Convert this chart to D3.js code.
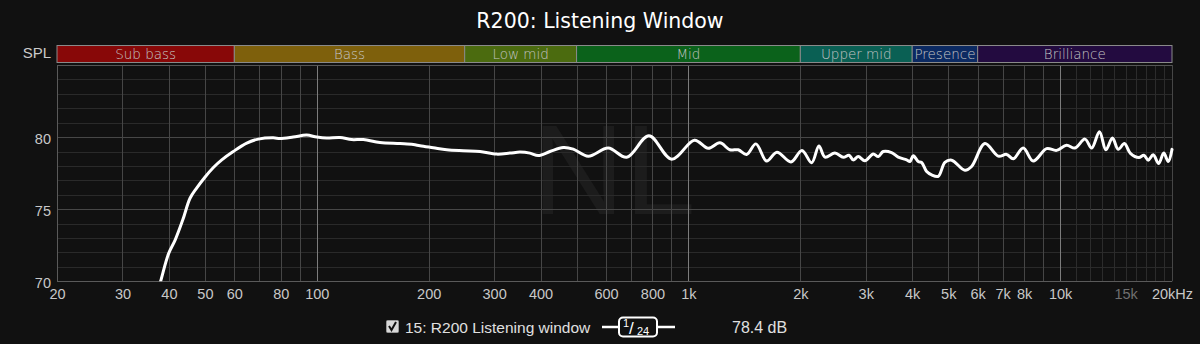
<!DOCTYPE html>
<html><head><meta charset="utf-8">
<script src="https://cdn.jsdelivr.net/npm/d3@7"></script>
<style>
html,body{margin:0;padding:0;background:#111111;}
svg{display:block;}
</style></head>
<body>
<svg id="chart" width="1200" height="344"></svg>
<script>
// ---------- DATA ----------
const titleText = "R200: Listening Window";
const freqs = [37,38,39.9,41.6,43.6,45.6,47.5,50,52.7,55.5,59.6,64.8,69.6,76.4,79.6,86.4,93.9,100,106.3,115.4,124.1,133.4,147.9,167.5,181.8,189.5,205.8,223.6,247.8,274.8,304.8,331,352,374.6,394.4,424,460.4,489.8,537.6,608.4,682,782.8,901.2,1038,1130,1215,1293,1361,1434,1519,1623,1730,1887,2020,2146,2244,2330,2478,2610,2704,2776,2864,2984,3142,3242,3342,3520,3668,3864,3944,4026,4152,4240,4374,4512,4700,4898,5106,5546,5778,6276,6816,7178,7480,7956,8466,9196,9784,10410,10962,11664,12158,12758,13282,13828,14334,14892,15458,16294,16806,17260,17802,18418,19000,19536,20000];
const splValues = [69.0,70.0,71.9,72.87,74.26,75.76,76.46,77.22,77.89,78.42,79.0,79.58,79.86,79.95,79.9,80.0,80.14,80.0,79.93,79.97,79.83,79.83,79.62,79.55,79.49,79.4,79.26,79.12,79.05,79.0,78.82,78.89,78.96,78.89,78.72,79.0,79.28,79.17,78.68,79.24,78.6,80.09,78.47,79.78,79.22,79.6,79.12,79.12,78.8,79.53,78.34,78.95,78.28,79.07,78.22,79.38,78.61,78.89,78.6,78.74,78.42,78.65,78.36,78.83,78.65,79.0,78.93,78.61,78.42,78.31,78.7,78.31,78.24,77.61,77.38,77.28,78.25,78.4,77.7,77.96,79.55,78.68,78.8,78.5,79.24,78.34,79.2,79.08,79.43,79.24,79.86,79.24,80.37,79.12,79.93,79.15,79.55,78.87,78.58,78.74,78.4,78.77,78.17,78.89,78.31,79.15];
const bandNames = ["Sub bass","Bass","Low mid","Mid","Upper mid","Presence","Brilliance"];
const bandEdges = [20,60,250,500,2000,4000,6000,20000];
const bandColors = ["#880808","#7e600c","#4b6b0f","#0b621b","#0a6054","#0c2a62","#230b40"];
const xTickValues = [20,30,40,50,60,80,100,200,300,400,600,800,1000,2000,3000,4000,5000,6000,7000,8000,10000,15000,20000];
const xTickLabels = ["20","30","40","50","60","80","100","200","300","400","600","800","1k","2k","3k","4k","5k","6k","7k","8k","10k","15k","20kHz"];
const yTickValues = [70,75,80];
const yDomain = [70,85];
const legendLabel = "15: R200 Listening window";
const legendValue = "78.4 dB";

// ---------- LAYOUT ----------
const L = 57, R = 1172, T = 65, B = 281.3;
const svg = d3.select("#chart");
const x = d3.scaleLog().domain([20,20000]).range([L,R]);
const y = d3.scaleLinear().domain(yDomain).range([B,T]);

svg.append("rect").attr("width",1200).attr("height",344).attr("fill","#111111");

// title
svg.append("text").attr("x",600).attr("y",28).attr("text-anchor","middle")
  .attr("font-family","DejaVu Sans, sans-serif").attr("font-size",20.5).attr("fill","#ffffff")
  .text(titleText);

// SPL label
svg.append("text").attr("x",51).attr("y",58).attr("text-anchor","end")
  .attr("font-family","Liberation Sans, Arial, sans-serif").attr("font-size",15).attr("fill","#cccccc")
  .text("SPL");

// bands
const bands = bandNames.map((n,i)=>({name:n,f0:bandEdges[i],f1:bandEdges[i+1],c:bandColors[i]}));
const bg = svg.append("g");
bg.selectAll("rect").data(bands).join("rect")
  .attr("x",d=>x(d.f0)).attr("y",45.5).attr("width",d=>x(d.f1)-x(d.f0)).attr("height",17)
  .attr("fill",d=>d.c).attr("stroke","#8a8a8a").attr("stroke-width",1);
bg.selectAll("text").data(bands).join("text")
  .attr("x",d=>(x(d.f0)+x(d.f1))/2).attr("y",54.5).attr("dy","0.36em").attr("text-anchor","middle")
  .attr("font-family","DejaVu Sans, sans-serif").attr("font-size",13.5).attr("font-weight",300).attr("fill","#c4c4c4")
  .text(d=>d.name);

// watermark
svg.append("text").attr("x",532).attr("y",214).attr("font-family","Liberation Sans, Arial, sans-serif")
  .attr("font-size",128).attr("fill","#1c1c1c").text("NL");

// grid
const grid = svg.append("g");
const hLines = d3.range(yDomain[0], yDomain[1]+1, 1);
grid.selectAll("line.h").data(hLines).join("line")
  .attr("x1",L).attr("x2",R).attr("y1",d=>Math.round(y(d))+0.5).attr("y2",d=>Math.round(y(d))+0.5)
  .attr("stroke",d=> d%5===0 ? "#474747" : "#2a2a2a").attr("stroke-width",1);
const vMain = [].concat(d3.range(20,101,10), d3.range(200,1001,100), d3.range(2000,10001,1000), [20000]);
const vFine = d3.range(11000,20000,1000);
grid.selectAll("line.vf").data(vFine).join("line")
  .attr("x1",d=>Math.round(x(d))+0.5).attr("x2",d=>Math.round(x(d))+0.5).attr("y1",T).attr("y2",B)
  .attr("stroke","#2c2c2c");
grid.selectAll("line.vm").data(vMain).join("line")
  .attr("class","vm")
  .attr("x1",d=>Math.round(x(d))+0.5).attr("x2",d=>Math.round(x(d))+0.5).attr("y1",T).attr("y2",B)
  .attr("stroke",d=> (d===100||d===1000||d===10000) ? "#7c7c7c" : "#464646");
// frame
svg.append("line").attr("x1",L).attr("x2",R).attr("y1",T+0.5).attr("y2",T+0.5).attr("stroke","#555");
svg.append("line").attr("x1",L).attr("x2",R).attr("y1",Math.round(B)+0.5).attr("y2",Math.round(B)+0.5).attr("stroke","#5a5a5a");
svg.append("line").attr("x1",L+0.5).attr("x2",L+0.5).attr("y1",T).attr("y2",B).attr("stroke","#5a5a5a");

// axes
const xAxis = d3.axisBottom(x).tickValues(xTickValues).tickFormat((d,i)=>xTickLabels[i]).tickSize(0).tickPadding(0);
const gx = svg.append("g").attr("transform",`translate(0,${289})`).call(xAxis);
gx.select(".domain").remove();
gx.selectAll("text").attr("font-family","Liberation Sans, Arial, sans-serif").attr("font-size",14.5)
  .attr("fill",(d)=> d===15000 ? "#707070" : "#c8c8c8").attr("dy","0.71em");

const yAxis = d3.axisLeft(y).tickValues(yTickValues).tickSize(0).tickPadding(6);
const gy = svg.append("g").attr("transform",`translate(${L},0)`).call(yAxis);
gy.select(".domain").remove();
gy.selectAll("text").attr("font-family","Liberation Sans, Arial, sans-serif").attr("font-size",14.5)
  .attr("fill","#c8c8c8").attr("dy","0.42em");

// curve
svg.append("clipPath").attr("id","plotclip").append("rect").attr("x",L).attr("y",T).attr("width",R-L+2).attr("height",B-T);
const pts = freqs.map((f,i)=>({f:f,v:splValues[i]}));
const line = d3.line().x(d=>x(d.f)).y(d=>y(d.v)).curve(d3.curveCatmullRom.alpha(0.5));
svg.append("path").attr("d",line(pts)).attr("clip-path","url(#plotclip)")
  .attr("fill","none").attr("stroke","#ffffff").attr("stroke-width",3).attr("stroke-linejoin","round").attr("stroke-linecap","round");

// legend
const lg = svg.append("g");
lg.append("rect").attr("x",386.5).attr("y",320.5).attr("width",12).attr("height",12).attr("rx",1)
  .attr("fill","#d8d8d8").attr("stroke","#9a9a9a");
lg.append("path").attr("d","M389,326 L391.5,330 L396,322").attr("fill","none").attr("stroke","#111").attr("stroke-width",2);
lg.append("text").attr("x",405).attr("y",327).attr("dy","0.36em")
  .attr("font-family","Liberation Sans, Arial, sans-serif").attr("font-size",15.5).attr("fill","#e0e0e0").text(legendLabel);
lg.append("line").attr("x1",602).attr("x2",675).attr("y1",327).attr("y2",327).attr("stroke","#fff").attr("stroke-width",2.5);
lg.append("rect").attr("x",619).attr("y",317.5).attr("width",38).attr("height",19).attr("rx",4)
  .attr("fill","#111").attr("stroke","#fff").attr("stroke-width",2);
lg.append("text").attr("x",623).attr("y",327).attr("font-family","Liberation Sans, Arial, sans-serif").attr("font-size",11).attr("fill","#fff").text("1");
lg.append("text").attr("x",629).attr("y",334).attr("font-family","Liberation Sans, Arial, sans-serif").attr("font-size",17).attr("fill","#fff").text("/");
lg.append("text").attr("x",637).attr("y",335).attr("font-family","Liberation Sans, Arial, sans-serif").attr("font-size",11).attr("fill","#fff").text("24");
lg.append("text").attr("x",732).attr("y",327).attr("dy","0.36em")
  .attr("font-family","Liberation Sans, Arial, sans-serif").attr("font-size",16).attr("fill","#e0e0e0").text(legendValue);
</script>
</body></html>
